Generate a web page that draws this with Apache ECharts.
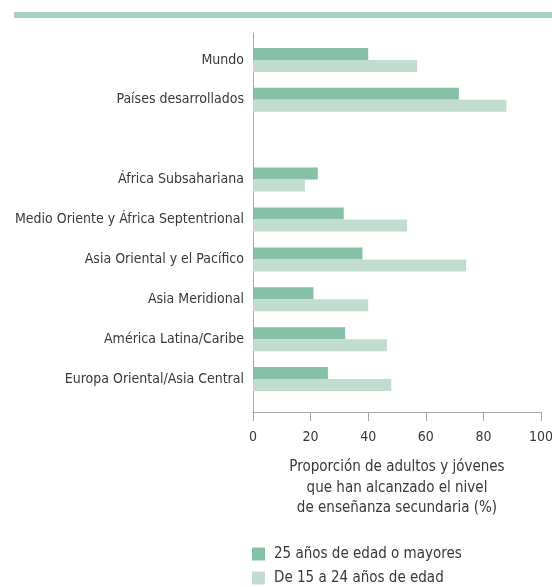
<!DOCTYPE html>
<html>
<head>
<meta charset="utf-8">
<script src="https://cdn.jsdelivr.net/npm/echarts@6/dist/echarts.min.js"></script>
<style>
  html, body { margin: 0; padding: 0; background: #fff; }
  #chart { width: 552px; height: 587px; }
</style>
</head>
<body>
<div id="chart"></div>
<script>
var myChart = echarts.init(document.getElementById('chart'));

// datos (de arriba hacia abajo)
var regiones = ['Mundo', 'Países desarrollados', '', 'África Subsahariana',
  'Medio Oriente y África Septentrional', 'Asia Oriental y el Pacífico',
  'Asia Meridional', 'América Latina/Caribe', 'Europa Oriental/Asia Central'];
var adultos = [40, 71.5, null, 22.5, 31.5, 38, 21, 32, 26];
var jovenes = [57, 88, null, 18, 53.5, 74, 40, 46.5, 48];
var ticks = [0, 20, 40, 60, 80, 100];
var nombres = ['25 años de edad o mayores', 'De 15 a 24 años de edad'];

var fuente = '"DejaVu Sans Condensed", "DejaVu Sans", sans-serif';
var gris = '#383838';

var option = {
  animation: false,
  textStyle: { fontFamily: fuente },
  graphic: [{
    type: 'rect',
    left: 14, top: 12,
    shape: { width: 538, height: 6 },
    style: { fill: '#a9d2be' }
  }],
  grid: [
    { left: 253, width: 288, top: 40, height: 359, outerBoundsMode: 'none' },   // barras
    { left: 253, width: 288, top: 33, height: 379, outerBoundsMode: 'none' }    // ejes
  ],
  xAxis: [{
    gridIndex: 0, type: 'value', min: ticks[0], max: ticks[ticks.length - 1],
    interval: 20, show: false
  }, {
    gridIndex: 1, type: 'value', position: 'bottom',
    min: ticks[0], max: ticks[ticks.length - 1], interval: 20,
    axisLine: { show: true, onZero: false, lineStyle: { color: '#a6a6a6', width: 1 } },
    axisTick: { show: true, length: 9, lineStyle: { color: '#a6a6a6' } },
    axisLabel: { color: gris, fontSize: 14, margin: 18, fontFamily: fuente },
    splitLine: { show: false },
    name: 'Proporción de adultos y jóvenes\nque han alcanzado el nivel\nde enseñanza secundaria (%)',
    nameLocation: 'middle',
    nameGap: 45,
    nameTextStyle: { color: gris, fontSize: 15, lineHeight: 20.5, fontFamily: fuente }
  }],
  yAxis: [{
    gridIndex: 0, type: 'category', data: regiones, inverse: true,
    axisLine: { show: false },
    axisTick: { show: false },
    axisLabel: { color: gris, fontSize: 14, margin: 9, fontFamily: fuente }
  }, {
    gridIndex: 1, type: 'value', min: 0, max: 1,
    axisLine: { show: true, onZero: false, lineStyle: { color: '#a6a6a6', width: 1 } },
    axisTick: { show: false },
    axisLabel: { show: false },
    splitLine: { show: false }
  }],
  legend: {
    orient: 'vertical',
    left: 252, bottom: 1,
    padding: 0,
    itemWidth: 13, itemHeight: 13, itemGap: 8,
    icon: 'rect',
    textStyle: { color: gris, fontSize: 15, lineHeight: 16, fontFamily: fuente, padding: [0, 0, 0, 4] },
    data: nombres
  },
  series: [{
    name: nombres[0], type: 'bar', xAxisIndex: 0, yAxisIndex: 0,
    data: adultos, barWidth: 12, barGap: '0%',
    itemStyle: { color: '#84c1a6' }
  }, {
    name: nombres[1], type: 'bar', xAxisIndex: 0, yAxisIndex: 0,
    data: jovenes, barWidth: 12, barGap: '0%',
    itemStyle: { color: '#c2ddcf' }
  }]
};

myChart.setOption(option);
</script>
</body>
</html>
